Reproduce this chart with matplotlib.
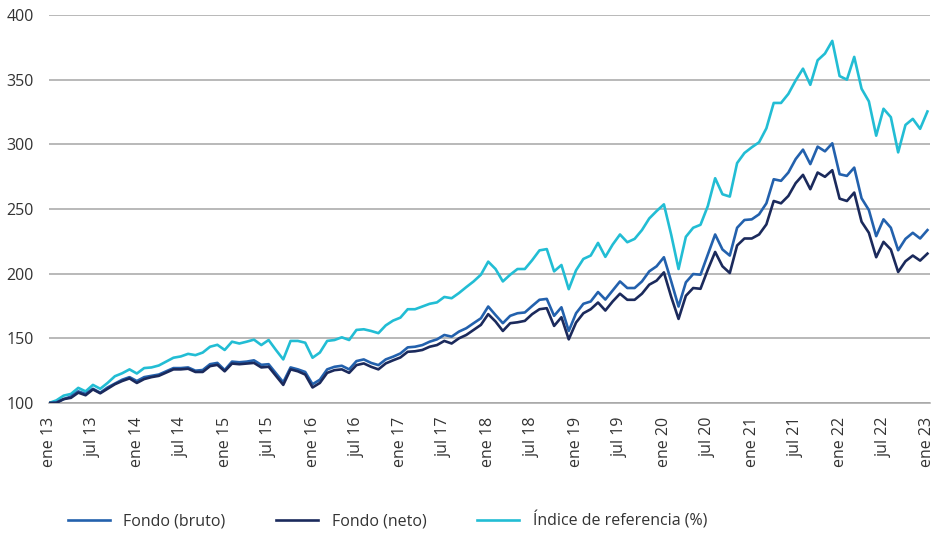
import matplotlib
matplotlib.use("Agg")
import matplotlib.pyplot as plt

plt.rcParams['font.family'] = ['Open Sans', 'DejaVu Sans']

# monthly index values, ene 13 .. ene 23
fondo_bruto = [
    100, 100.5, 103, 105, 109, 107, 111, 108, 112, 115, 118, 120,
    117, 120, 121, 122, 124.5, 127, 127, 127.5, 125, 125.5, 130, 131,
    125.5, 132, 131.5, 132, 133, 129.5, 130, 123, 116, 127.5, 126, 124,
    114.5, 118, 126, 128, 128.8, 126, 132.4, 133.7, 131, 129.3, 133.7, 135.8,
    138.3, 143, 143.5, 144.8, 147.4, 149.2, 152.6, 151.3, 155.2, 157.8, 161.7, 165.5,
    174.6, 168, 161.7, 167.4, 169.4, 170, 175, 179.8, 180.5, 167.4, 174, 155.7,
    169.4, 176.7, 178.5, 185.8, 180, 187, 194, 188.9, 188.9, 194, 201.8, 205.7,
    212.7, 194, 174.6, 193.3, 199.7, 199.2, 214.8, 230.3, 218.7, 214, 235.5, 241.5,
    242, 245.9, 254.4, 273, 271.8, 278.2, 288.6, 295.9, 284.7, 298.2, 294.6, 300.8,
    276.9, 275.6, 282, 258.3, 249.2, 229, 242, 235.5, 218.1, 226.9, 231.6, 227.2,
    233.7,
]
fondo_neto = [
    100, 100, 103, 104, 108, 106, 110.5, 107.5, 111, 114.5, 117, 119,
    115.5, 118.5, 120, 121, 123.5, 126, 126, 126.5, 124, 124, 128.5, 129.5,
    124.5, 130.5, 130, 130.5, 131, 127.5, 128, 121, 114, 126, 124.5, 122,
    112, 115.5, 123.3, 125.4, 126, 123.3, 129.3, 130.6, 128, 126, 130.6, 133,
    135.2, 139.6, 140, 141, 143.5, 144.8, 148, 146, 150, 152.6, 156.5, 160.4,
    168.7, 163, 155.7, 161.7, 162.4, 163.5, 168.7, 172.5, 173.3, 159.6, 166.3, 149.2,
    162.2, 169.4, 172.5, 177.7, 171.5, 178.5, 184.5, 179.8, 179.8, 184.5, 191.5, 194.6,
    201, 182, 165, 182.9, 188.9, 188.3, 203.1, 216.8, 205.7, 200.5, 221.8, 227.2,
    227.2, 230.3, 238.1, 256.2, 254.4, 260.1, 270, 276.4, 265.3, 278.2, 274.9, 280,
    258, 256.2, 262.7, 240.2, 231.6, 212.7, 224.6, 218.7, 201.3, 209.6, 214, 210.1,
    215.5,
]
indice = [
    100, 102, 105.7, 107, 111.7, 109, 114, 111, 115.5, 120.7, 123, 126,
    122.8, 127, 127.5, 129, 132, 135, 136, 138, 137, 139, 143.5, 145,
    141, 147.4, 146, 147.4, 149, 144.8, 148.7, 141, 133.7, 148, 148, 146.6,
    135, 139, 148, 148.7, 150.8, 148.7, 156.5, 157, 155.7, 154, 160, 163.7,
    166, 172.5, 172.5, 174.6, 176.7, 177.8, 182, 181, 185, 189.6, 194, 199.2,
    209.3, 203.6, 194, 199.2, 203.6, 203.6, 210.4, 218, 219, 201.8, 206.7, 188,
    202.6, 211.4, 214, 223.8, 213, 222.5, 230.3, 224.3, 226.9, 233.7, 242.7, 248.4,
    253.6, 230, 203.6, 228.5, 235.5, 237.8, 252.3, 273.8, 261.4, 259.6, 285.5, 293.3,
    297.7, 301.6, 312.4, 332, 332, 339, 349.4, 358.5, 346, 365, 370.2, 380,
    352.8, 350, 367.6, 343, 333.2, 306.7, 327.5, 321, 293.8, 315, 319.7, 312,
    325.4,
]

tick_labels = []
for yy in range(13, 23):
    tick_labels += ['ene %d' % yy, 'jul %d' % yy]
tick_labels.append('ene 23')

meses = list(range(len(indice)))

fig = plt.figure(figsize=(9.31, 5.33), dpi=100)
ax = fig.add_axes([49 / 931, 1 - 403 / 533, 881 / 931, 388 / 533])

ax.plot(meses, fondo_bruto, color='#2361ad', lw=1.9, label='Fondo (bruto)', zorder=3)
ax.plot(meses, fondo_neto, color='#1b2a5c', lw=1.9, label='Fondo (neto)', zorder=4)
ax.plot(meses, indice, color='#22bdd4', lw=1.9, label='Índice de referencia (%)', zorder=2)

ax.set_xlim(0, 120.35)
ax.set_ylim(100, 400)
ax.set_yticks(range(100, 401, 50))
ax.set_xticks(range(0, 121, 6))
ax.set_xticklabels(tick_labels, rotation=90)
ax.tick_params(axis='both', length=0, labelsize=11.5, colors='#333333')
ax.tick_params(axis='x', pad=10)
ax.tick_params(axis='y', pad=11)

ax.grid(axis='y', color='#a6a6a6', lw=1.1)
ax.set_axisbelow(True)
for s in ['top', 'right', 'left']:
    ax.spines[s].set_visible(False)
ax.spines['bottom'].set_color('#a6a6a6')
ax.spines['bottom'].set_linewidth(1.1)

fig.legend(loc='center left', bbox_to_anchor=(60 / 931, 1 - 521 / 533), ncol=3,
           frameon=False, fontsize=11.5, handlelength=2.6, handletextpad=0.85,
           columnspacing=3.2, borderpad=0, labelcolor='#333333')

fig.savefig('out.png', dpi=100)
